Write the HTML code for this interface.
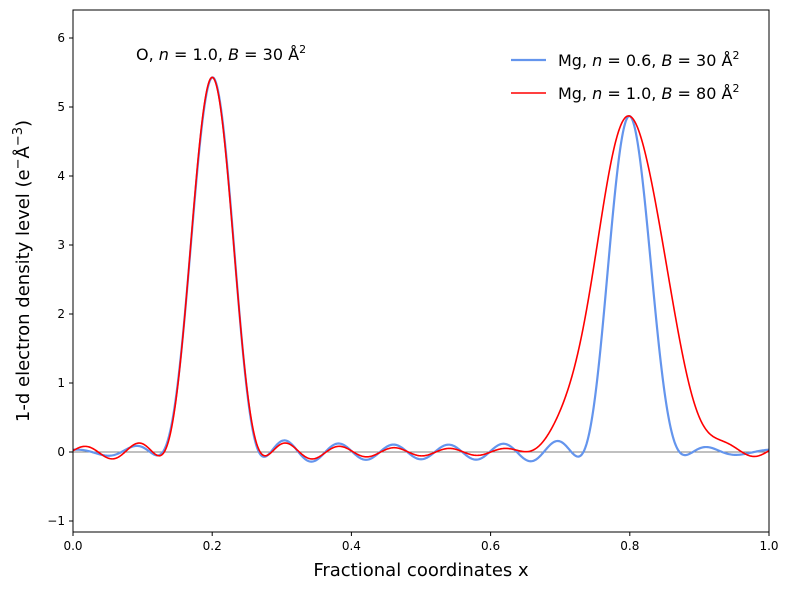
<!DOCTYPE html>
<html><head><meta charset="utf-8"><style>
body{margin:0;background:#fff}
text{font-family:"DejaVu Sans","Liberation Sans",sans-serif;fill:#000}
</style></head><body>
<svg id="s" width="789" height="590" xmlns="http://www.w3.org/2000/svg">
<rect width="789" height="590" fill="#fff"/>
<line x1="73" y1="452" x2="769" y2="452" stroke="#808080" stroke-width="1"/>
<path id="blue" fill="none" stroke="#6495ED" stroke-width="2.2"/>
<path id="red" fill="none" stroke="#ff0000" stroke-width="1.6"/>
<rect x="73" y="10" width="696" height="522" fill="none" stroke="#000" stroke-width="1"/>
<g id="ticks" font-size="12"></g>
<text x="421" y="576" font-size="18" text-anchor="middle">Fractional coordinates x</text>
<text transform="translate(29,271) rotate(-90)" font-size="18" text-anchor="middle">1-d electron density level (e<tspan font-size="13" dy="-7">−</tspan><tspan dy="7">Å</tspan><tspan font-size="13" dy="-7">−3</tspan><tspan dy="7">)</tspan></text>
<text x="136" y="60" font-size="16">O, <tspan font-style="italic">n</tspan> = 1.0, <tspan font-style="italic">B</tspan> = 30 Å<tspan font-size="11" dy="-7">2</tspan></text>
<line x1="511" y1="60" x2="546" y2="60" stroke="#6495ED" stroke-width="2.2"/>
<text x="558" y="66" font-size="16">Mg, <tspan font-style="italic">n</tspan> = 0.6, <tspan font-style="italic">B</tspan> = 30 Å<tspan font-size="11" dy="-7">2</tspan></text>
<line x1="511" y1="93" x2="546" y2="93" stroke="#ff0000" stroke-width="1.6"/>
<text x="558" y="99" font-size="16">Mg, <tspan font-style="italic">n</tspan> = 1.0, <tspan font-style="italic">B</tspan> = 80 Å<tspan font-size="11" dy="-7">2</tspan></text>
</svg>
<script>
var X=x=>73+696*x, Y=y=>452-69*y;
var g=document.getElementById('ticks'),h='';
for(var i=0;i<=5;i++){var x=i/5,px=X(x);h+='<line x1="'+px+'" y1="532" x2="'+px+'" y2="536" stroke="#000"/><text x="'+px+'" y="550" text-anchor="middle">'+x.toFixed(1)+'</text>';}
for(var v=-1;v<=6;v++){var py=Y(v);h+='<line x1="69" y1="'+py+'" x2="73" y2="'+py+'" stroke="#000"/><text x="65" y="'+(py+4)+'" text-anchor="end">'+(v<0?'−1':v)+'</text>';}
g.innerHTML=h;
var H=12;
function comp(x0,s){
 return function(x){var v=1;for(var k=1;k<=H;k++)v+=2*Math.exp(-2*Math.PI*Math.PI*k*k*s*s)*Math.cos(2*Math.PI*k*(x-x0));return v;};}
function scaled(x0,s,peak){var f=comp(x0,s),p=f(x0);
 return function(x){return f(x)/p*peak;};}
var O=scaled(0.2,0.026,5.43),MgB=scaled(0.8,0.026,4.87),MgR=scaled(0.8,0.048,4.87);
function path(fn){var d='';for(var i=0;i<=1000;i++){var x=i/1000;d+=(i?'L':'M')+X(x).toFixed(2)+','+Y(fn(x)).toFixed(2);}return d;}
document.getElementById('blue').setAttribute('d',path(x=>O(x)+MgB(x)));
document.getElementById('red').setAttribute('d',path(x=>O(x)+MgR(x)));
</script>
</body></html>
